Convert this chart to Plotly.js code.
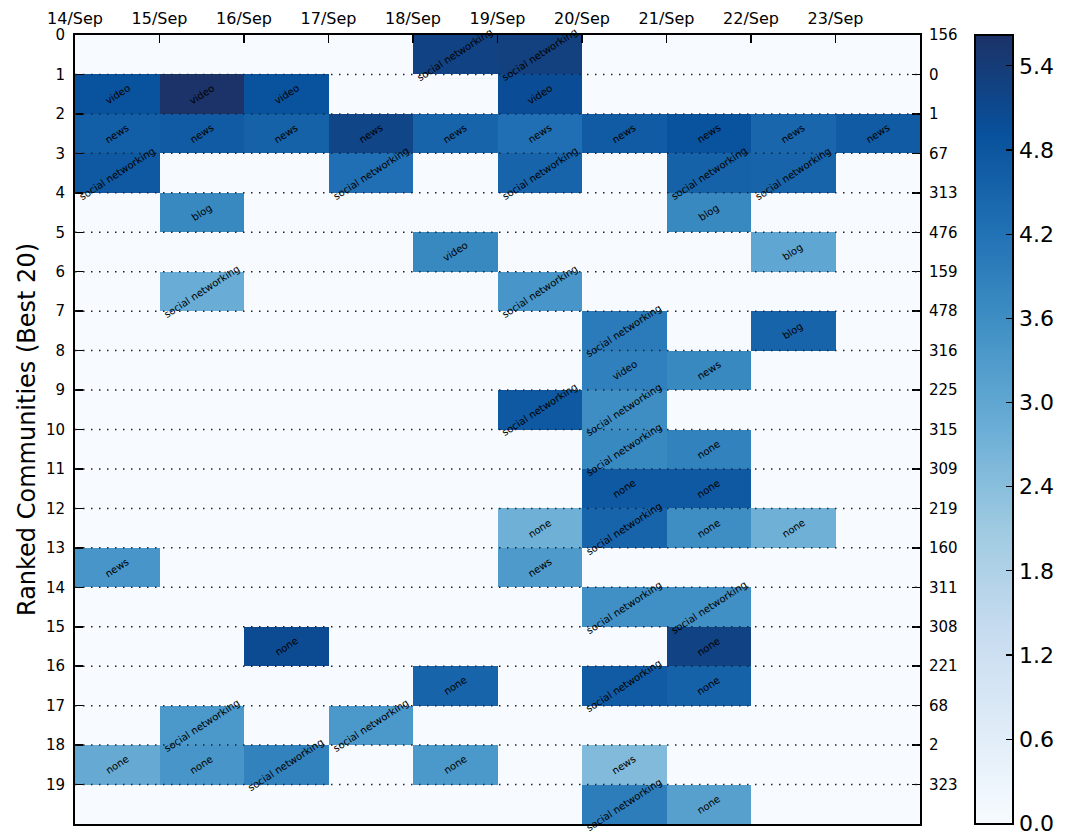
<!DOCTYPE html>
<html>
<head>
<meta charset="utf-8">
<script src="https://cdn.plot.ly/plotly-3.0.1.min.js"></script>
<style>html,body{margin:0;padding:0;background:#fff;}#chart{width:1074px;height:835px;}</style>
</head>
<body>
<div id="chart"></div>
<script>
// ---- data ----
const days = ['14/Sep','15/Sep','16/Sep','17/Sep','18/Sep','19/Sep','20/Sep','21/Sep','22/Sep','23/Sep'];
const rankTicks = ['0','1','2','3','4','5','6','7','8','9','10','11','12','13','14','15','16','17','18','19'];
const communityIds = ['156','0','1','67','313','476','159','478','316','225','315','309','219','160','311','308','221','68','2','323'];
const colorbarTicks = [0,0.6,1.2,1.8,2.4,3.0,3.6,4.2,4.8,5.4];

const scores = [
  [0,0,0,0,5.25,5.3,0,0,0,0],
  [4.9,5.6,4.9,0,0,5.0,0,0,0,0],
  [4.6,4.7,4.55,5.2,4.5,4.25,4.7,4.9,4.45,4.7],
  [4.75,0,0,4.25,0,4.5,0,4.55,4.5,0],
  [0,3.7,0,0,0,0,0,3.7,0,0],
  [0,0,0,0,3.7,0,0,0,3.0,0],
  [0,2.85,0,0,0,3.4,0,0,0,0],
  [0,0,0,0,0,0,4.0,0,4.5,0],
  [0,0,0,0,0,0,3.9,3.7,0,0],
  [0,0,0,0,0,4.75,3.6,0,0,0],
  [0,0,0,0,0,0,3.7,3.85,0,0],
  [0,0,0,0,0,0,4.75,4.75,0,0],
  [0,0,0,0,0,2.75,4.5,3.6,2.75,0],
  [3.4,0,0,0,0,3.3,0,0,0,0],
  [0,0,0,0,0,0,3.55,3.55,0,0],
  [0,0,5.05,0,0,0,0,5.25,0,0],
  [0,0,0,0,4.5,0,4.7,4.55,0,0],
  [0,3.35,0,3.35,0,0,0,0,0,0],
  [2.9,3.4,3.85,0,3.35,0,2.5,0,0,0],
  [0,0,0,0,0,0,3.95,3.15,0,0]
];

const SN = 'social networking';
const topics = [
  ['','','','',SN,SN,'','','',''],
  ['video','video','video','','','video','','','',''],
  ['news','news','news','news','news','news','news','news','news','news'],
  [SN,'','',SN,'',SN,'',SN,SN,''],
  ['','blog','','','','','','blog','',''],
  ['','','','','video','','','','blog',''],
  ['',SN,'','','',SN,'','','',''],
  ['','','','','','',SN,'','blog',''],
  ['','','','','','','video','news','',''],
  ['','','','','',SN,SN,'','',''],
  ['','','','','','',SN,'none','',''],
  ['','','','','','','none','none','',''],
  ['','','','','','none',SN,'none','none',''],
  ['news','','','','','news','','','',''],
  ['','','','','','',SN,SN,'',''],
  ['','','none','','','','','none','',''],
  ['','','','','none','',SN,'none','',''],
  ['',SN,'',SN,'','','','','',''],
  ['none','none',SN,'','none','','news','','',''],
  ['','','','','','',SN,'none','','']
];

const zMin = -0.005;
const zMax = 5.62;

// matplotlib-like "Blues"
const blues = [
  [0.0,'rgb(247,251,255)'],[0.125,'rgb(222,235,247)'],[0.25,'rgb(198,219,239)'],
  [0.375,'rgb(158,202,225)'],[0.5,'rgb(107,174,214)'],[0.625,'rgb(66,146,198)'],
  [0.75,'rgb(33,113,181)'],[0.875,'rgb(8,81,156)'],[1.0,'rgb(28,50,103)']
];

const nRows = scores.length, nCols = days.length;
const xEdges = Array.from({length:nCols+1},(_,i)=>i);
const yEdges = Array.from({length:nRows+1},(_,i)=>i);
const rowIdx = Array.from({length:nRows},(_,i)=>i);
const colIdx = Array.from({length:nCols},(_,i)=>i);

const FONT = 'DejaVu Sans, Liberation Sans, sans-serif';

const heat = {
  type:'heatmap', x:xEdges, y:yEdges, z:scores,
  colorscale:blues, zmin:zMin, zmax:zMax, hoverinfo:'skip',
  colorbar:{
    x:(975-75)/845, xanchor:'left', xpad:0, y:0.5, yanchor:'middle', len:1, ypad:0,
    thickness:38, outlinewidth:2, outlinecolor:'#000',
    tickmode:'array', tickvals:colorbarTicks, ticklabeloverflow:'allow',
    tickformat:'.1f', ticks:'inside', ticklen:8, tickwidth:1.2, tickcolor:'#000',
    tickfont:{family:FONT, size:22, color:'#000'}
  }
};
const dummy = {type:'scatter', x:[], y:[], yaxis:'y2', xaxis:'x', showlegend:false, hoverinfo:'skip'};

const annotations = [];
rowIdx.forEach(r=>{
  colIdx.forEach(c=>{
    const t = topics[r][c];
    if (t) annotations.push({
      x:c+0.5, y:r+0.5, xref:'x', yref:'y', text:t, showarrow:false,
      textangle:-33, xanchor:'center', yanchor:'middle',
      font:{family:FONT, size:10, color:'#000'}
    });
  });
});

const shapes = rowIdx.slice(1).map(r=>({
  type:'line', xref:'paper', x0:0, x1:1, yref:'y', y0:r, y1:r, layer:'above',
  line:{color:'#222', width:1.5, dash:'1.5px,6.5px'}
}));

const layout = {
  width:1074, height:835,
  margin:{l:75, r:154, t:35, b:11, pad:0},
  paper_bgcolor:'#fff', plot_bgcolor:'#fff',
  font:{family:FONT, color:'#000'},
  showlegend:false,
  xaxis:{
    range:[0,nCols], side:'top', tickvals:colIdx, ticktext:days,
    ticks:'inside', ticklen:8, tickwidth:1.5, tickcolor:'#000',
    showline:true, linewidth:2, linecolor:'#000', mirror:true,
    showgrid:false, zeroline:false, fixedrange:true,
    ticklabelstandoff:3,
    tickfont:{family:FONT, size:16, color:'#000'}
  },
  yaxis:{
    range:[nRows,0], tickvals:rowIdx, ticktext:rankTicks,
    ticks:'inside', ticklen:8, tickwidth:1.5, tickcolor:'#000',
    showline:true, linewidth:2, linecolor:'#000', mirror:true,
    showgrid:false, zeroline:false, fixedrange:true,
    ticklabelstandoff:5,
    tickfont:{family:FONT, size:15, color:'#000'},
    title:{text:'Ranked Communities (Best 20)', font:{family:FONT, size:24, color:'#000'}, standoff:4}
  },
  yaxis2:{
    overlaying:'y', side:'right', anchor:'x', range:[nRows,0],
    tickvals:rowIdx, ticktext:communityIds,
    ticks:'inside', ticklen:8, tickwidth:1.5, tickcolor:'#000',
    showline:false, showgrid:false, zeroline:false, fixedrange:true,
    ticklabelstandoff:8,
    tickfont:{family:FONT, size:15, color:'#000'}
  },
  annotations:annotations,
  shapes:shapes
};

Plotly.newPlot('chart',[heat,dummy],layout,{displayModeBar:false, staticPlot:true});
</script>
</body>
</html>
